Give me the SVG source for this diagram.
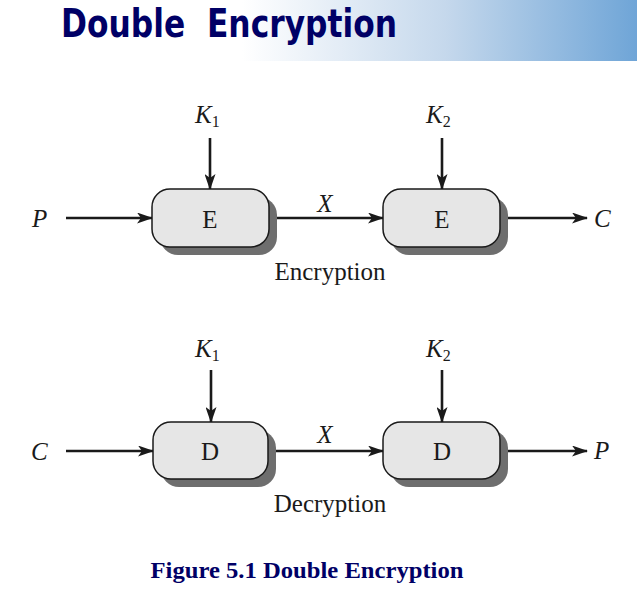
<svg xmlns="http://www.w3.org/2000/svg" width="637" height="607" viewBox="0 0 637 607">
<defs>
<linearGradient id="band" x1="0" y1="0" x2="1" y2="0">
<stop offset="0" stop-color="#ffffff"/>
<stop offset="0.38" stop-color="#ffffff"/>
<stop offset="0.7" stop-color="#c5d8ec"/>
<stop offset="1" stop-color="#6fa5d7"/>
</linearGradient>
<marker id="ah" viewBox="0 0 16 11" refX="15" refY="5.5" markerWidth="16" markerHeight="11" markerUnits="userSpaceOnUse" orient="auto">
<path d="M0,0 L16,5.5 L0,11 L4,5.5 Z" fill="#1a1a1a"/>
</marker>
</defs>
<style>
.box{fill:#e6e6e6;stroke:#1a1a1a;stroke-width:1.5}
.sh{fill:#6e6e6e}
.lbl{font-family:"Liberation Serif",serif;font-size:25px;fill:#1a1a1a}
.it{font-style:italic}
.sub{font-size:16px}
.ln{stroke:#1a1a1a;stroke-width:2.6;fill:none;marker-end:url(#ah)}
</style>
<rect x="0" y="0" width="637" height="61" fill="url(#band)"/>
<text x="61" y="37" font-family="'DejaVu Sans',Verdana,sans-serif" font-weight="bold" font-size="39" fill="#000066" textLength="336" lengthAdjust="spacingAndGlyphs" xml:space="preserve">Double  Encryption</text>

<g id="connectors">
<line class="ln" x1="66" y1="218" x2="152" y2="218"/>
<line class="ln" x1="210" y1="138" x2="210" y2="189"/>
<line class="ln" x1="269" y1="218" x2="383" y2="218"/>
<line class="ln" x1="442" y1="138" x2="442" y2="189"/>
<line class="ln" x1="500" y1="218" x2="587" y2="218"/>
<line class="ln" x1="66" y1="451" x2="153" y2="451"/>
<line class="ln" x1="211" y1="370" x2="211" y2="422"/>
<line class="ln" x1="268" y1="451" x2="383" y2="451"/>
<line class="ln" x1="442" y1="370" x2="442" y2="422"/>
<line class="ln" x1="500" y1="451" x2="587" y2="451"/>
</g>

<g id="E1">
<rect class="sh" x="160" y="197" width="117" height="58" rx="18"/>
<rect class="box" x="152" y="189" width="117" height="58" rx="18"/>
<text class="lbl" x="210" y="228" text-anchor="middle">E</text>
</g>
<g id="E2">
<rect class="sh" x="391" y="197" width="117" height="58" rx="18"/>
<rect class="box" x="383" y="189" width="117" height="58" rx="18"/>
<text class="lbl" x="442" y="228" text-anchor="middle">E</text>
</g>
<g id="D1">
<rect class="sh" x="161" y="430" width="115" height="57" rx="18"/>
<rect class="box" x="153" y="422" width="115" height="57" rx="18"/>
<text class="lbl" x="210" y="460" text-anchor="middle">D</text>
</g>
<g id="D2">
<rect class="sh" x="391" y="430" width="117" height="57" rx="18"/>
<rect class="box" x="383" y="422" width="117" height="57" rx="18"/>
<text class="lbl" x="442" y="460" text-anchor="middle">D</text>
</g>

<g id="labels">
<text class="lbl it" x="32" y="227">P</text>
<text class="lbl" x="195" y="123"><tspan class="it">K</tspan><tspan class="sub" dy="4">1</tspan></text>
<text class="lbl" x="426" y="123"><tspan class="it">K</tspan><tspan class="sub" dy="4">2</tspan></text>
<text class="lbl it" x="325" y="212" text-anchor="middle">X</text>
<text class="lbl it" x="594" y="227">C</text>
<text class="lbl" x="330" y="280" text-anchor="middle">Encryption</text>
<text class="lbl it" x="31" y="460">C</text>
<text class="lbl" x="195" y="357"><tspan class="it">K</tspan><tspan class="sub" dy="4">1</tspan></text>
<text class="lbl" x="426" y="357"><tspan class="it">K</tspan><tspan class="sub" dy="4">2</tspan></text>
<text class="lbl it" x="325" y="443" text-anchor="middle">X</text>
<text class="lbl it" x="594" y="459">P</text>
<text class="lbl" x="330" y="512" text-anchor="middle">Decryption</text>
</g>
<text x="307" y="578" text-anchor="middle" font-family="'Liberation Serif',serif" font-weight="bold" font-size="23" fill="#000066" textLength="313" lengthAdjust="spacingAndGlyphs">Figure 5.1 Double Encryption</text>
</svg>
